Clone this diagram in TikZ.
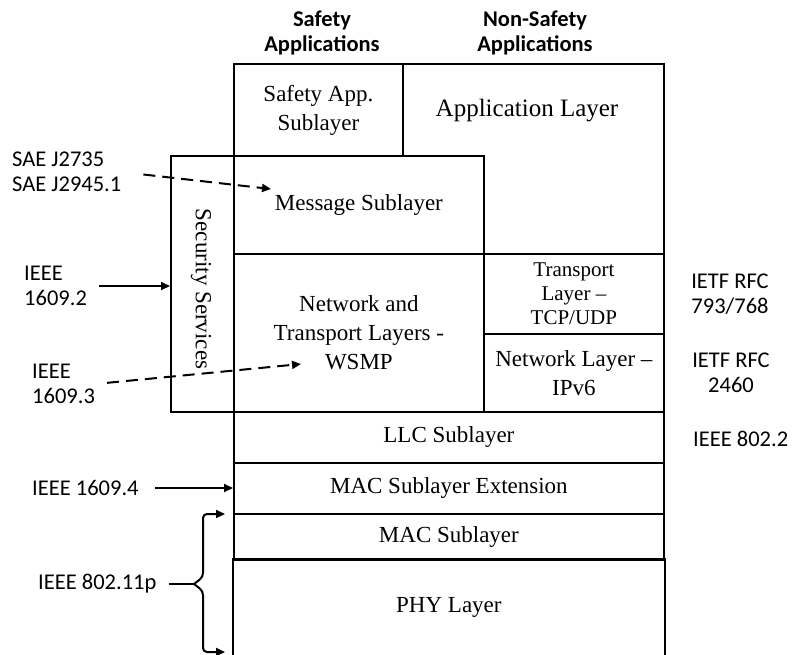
\documentclass[tikz,border=0pt]{standalone}
\usepackage{fontspec}
\setmainfont{Liberation Serif}
\newfontfamily\calibri{Carlito}
\usetikzlibrary{arrows.meta}

\begin{document}
\begin{tikzpicture}[x=1pt,y=-1pt,
    layer/.style={draw, line width=1.8pt, inner sep=0pt, anchor=north west, align=center,
        font=\fontsize{23}{29}\selectfont},
    spec/.style={inner sep=0pt, align=left, font=\calibri\fontsize{22.5}{25}\selectfont},
    head/.style={inner sep=0pt, align=center, font=\calibri\bfseries\fontsize{22.5}{25}\selectfont},
    solidarrow/.style={line width=2pt, -{Triangle[length=9pt,width=8pt]}},
    dasharrow/.style={solidarrow, dash pattern=on 12pt off 7pt}]
    %\draw[help lines] (0,0) grid[step=50] (792,654);
    \useasboundingbox (0,0) rectangle (792,654);

    \node[head] (safetyapps) at (322,33) {Safety\\Applications};
    \node[head] (nonsafetyapps) at (535,33) {Non-Safety\\Applications};

    \node[layer, minimum width=169pt, minimum height=92pt] (safeapp) at (233,63) {Safety App.\\Sublayer};
    \node[layer, minimum width=261pt, minimum height=190pt] (applayer) at (402,63) {};
    \node[font=\fontsize{25}{29}\selectfont, inner sep=0pt] (applabel) at (527,111) {Application Layer};
    \node[layer, fill=white, minimum width=250pt, minimum height=98pt] (msg) at (233,155) {Message Sublayer};
    \node[layer, minimum width=63pt, minimum height=256pt] (sec) at (170,155) {};
    \node[rotate=-90, inner sep=0pt, font=\fontsize{23}{29}\selectfont] (seclabel) at (201,289) {Security Services};
    \node[layer, minimum width=250pt, minimum height=158pt] (nettrans) at (233,253) {Network and\\Transport Layers -\\WSMP};
    \node[layer, minimum width=180pt, minimum height=80pt, font=\fontsize{21}{24}\selectfont] (transport) at (483,253) {Transport\\Layer --\\TCP/UDP};
    \node[layer, minimum width=180pt, minimum height=78pt] (network) at (483,333) {Network Layer --\\IPv6};
    \node[layer, minimum width=430pt, minimum height=51pt] (llc) at (233,411) {LLC Sublayer};
    \node[layer, minimum width=430pt, minimum height=51pt] (macx) at (233,462) {MAC Sublayer Extension};
    \node[layer, minimum width=430pt, minimum height=46pt] (mac) at (233,513) {MAC Sublayer};
    \node[layer, draw=none, minimum width=430pt, minimum height=95pt] (phy) at (233,559) {PHY Layer};
    \draw[line width=1.8pt] (phy.south west) -- (phy.north west) -- (phy.north east) -- (phy.south east);

    \node[spec, anchor=west] (sae) at (12,172) {SAE J2735\\SAE J2945.1};
    \node[spec, anchor=west] (ieee2) at (24,286) {IEEE\\1609.2};
    \node[spec, anchor=west] (ieee3) at (32,384) {IEEE\\1609.3};
    \node[spec, anchor=west] (ieee4) at (32,488) {IEEE 1609.4};
    \node[spec, anchor=west] (ieee11p) at (38,584) {IEEE 802.11p};
    \node[spec, align=center] (rfctcp) at (730,294) {IETF RFC\\793/768};
    \node[spec, align=center] (rfcip) at (731,373) {IETF RFC\\2460};
    \node[spec, anchor=west] (ieee22) at (693,439) {IEEE 802.2};

    \coordinate (msgtip) at (271,189);
    \coordinate (wsmptip) at (301,364);
    \coordinate (bracetip) at (194,584);

    \draw[dasharrow, shorten <=22pt] (sae.east) -- (msgtip);
    \draw[solidarrow, shorten <=12pt] (ieee2.east) -- (ieee2.east -| sec.west);
    \draw[dasharrow, shorten <=12pt] (ieee3.east) -- (wsmptip);
    \draw[solidarrow, shorten <=16pt] (ieee4.east) -- (ieee4.east -| macx.west);
    \draw[line width=2pt, shorten <=12pt] (ieee11p.east) -- (bracetip);
    \draw[solidarrow, rounded corners=4pt] (bracetip) -- (203,577) -- (203,514) -- (225,514);
    \draw[solidarrow, rounded corners=4pt] (bracetip) -- (203,591) -- (203,652) -- (225,652);
\end{tikzpicture}
\end{document}
